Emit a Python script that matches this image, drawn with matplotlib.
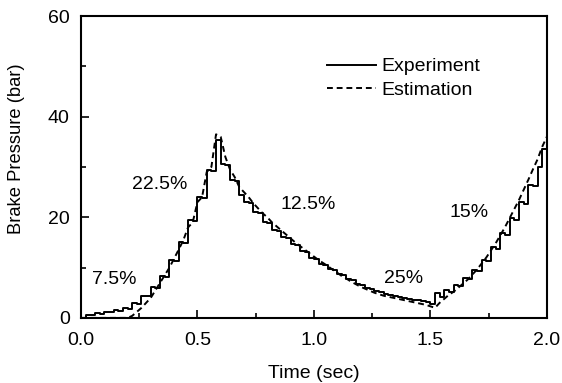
import matplotlib
matplotlib.use("Agg")
import matplotlib.pyplot as plt
from matplotlib.ticker import MultipleLocator

plt.rcParams["font.family"] = ["Liberation Sans", "DejaVu Sans"]

# sample times (sec), 0.02 s grid
time = [round(0.02 * i, 2) for i in range(101)]

# measured brake pressure (bar), held between samples
experiment = [
    0.0, 0.5, 0.5, 0.9, 0.8, 1.2, 1.1, 1.5, 1.4, 1.9,
    1.8, 2.9, 2.8, 4.4, 4.3, 6.2, 6.0, 8.4, 8.2, 11.5,
    11.3, 15.0, 14.8, 19.5, 19.2, 24.0, 23.8, 29.5, 29.2, 35.3,
    30.5, 30.3, 27.4, 27.2, 24.4, 23.0, 22.8, 21.0, 20.8, 19.0,
    18.8, 17.4, 17.2, 16.0, 15.8, 14.6, 14.4, 13.3, 13.1, 12.0,
    11.8, 10.8, 10.6, 9.7, 9.5, 8.7, 8.5, 7.7, 7.5, 6.8,
    6.6, 6.0, 5.8, 5.3, 5.1, 4.7, 4.6, 4.3, 4.2, 3.9,
    3.8, 3.6, 3.5, 3.3, 3.1, 2.8, 5.0, 4.2, 5.6, 5.2,
    6.6, 6.3, 8.0, 7.7, 9.6, 9.3, 11.6, 11.3, 14.0, 13.7,
    16.8, 16.5, 19.8, 19.5, 23.0, 22.7, 26.5, 26.2, 30.0, 33.5,
    33.0,
]

# estimated brake pressure (bar)
estimation = [
    0.0, 0.0, 0.0, 0.0, 0.0, 0.0, 0.0, 0.0, 0.0, 0.0,
    0.0, 0.4, 1.2, 2.0, 3.0, 4.0, 5.5, 7.0, 8.5, 10.0,
    11.8, 13.6, 15.5, 18.0, 19.0, 23.0, 24.0, 29.0, 30.0, 36.5,
    36.0, 32.0, 29.5, 28.0, 26.0, 25.0, 24.0, 22.8, 21.8, 20.8,
    20.0, 19.0, 18.2, 17.4, 16.6, 15.8, 15.0, 14.3, 13.6, 12.9,
    12.2, 11.5, 10.9, 10.3, 9.6, 9.0, 8.3, 7.8, 7.2, 6.7,
    6.2, 5.8, 5.4, 5.0, 4.7, 4.4, 4.2, 4.0, 3.8, 3.6,
    3.4, 3.2, 3.0, 2.8, 2.6, 2.3, 2.0, 3.0, 3.8, 4.6,
    5.2, 6.0, 6.8, 7.6, 8.6, 9.6, 10.8, 12.0, 13.4, 14.8,
    16.4, 18.0, 19.8, 21.6, 23.4, 25.4, 27.4, 29.5, 31.5, 34.0,
    36.0,
]

# duty labels and where they sit (time, pressure)
duty_labels = ["7.5%", "22.5%", "12.5%", "25%", "15%"]
duty_t = [0.145, 0.34, 0.975, 1.385, 1.665]
duty_p = [7.6, 26.5, 22.6, 7.9, 21.0]

fig = plt.figure(figsize=(5.62, 3.83), dpi=100)
ax = fig.add_axes([0.144, 0.170, 0.829, 0.788])

ax.plot(time, experiment, color="black", lw=1.4, drawstyle="steps-post",
        label="Experiment")
ax.plot(time, estimation, color="black", lw=1.4, linestyle=(0, (3, 2)),
        label="Estimation")

for lab, tx, py in zip(duty_labels, duty_t, duty_p):
    ax.text(tx, py, lab, ha="center", va="center", fontsize=14)

ax.set_xlim(0, 2.0)
ax.set_ylim(0, 60)
ax.xaxis.set_major_locator(MultipleLocator(0.5))
ax.xaxis.set_minor_locator(MultipleLocator(0.25))
ax.yaxis.set_major_locator(MultipleLocator(20))
ax.yaxis.set_minor_locator(MultipleLocator(10))
ax.xaxis.set_major_formatter(plt.FormatStrFormatter("%.1f"))
ax.tick_params(which="both", direction="in", top=False, right=False,
               labelsize=14, width=1.2)
ax.tick_params(which="major", length=6)
ax.tick_params(axis="x", which="major", pad=10)
ax.tick_params(axis="y", which="major", pad=8)
ax.tick_params(which="minor", length=3.5)
for s in ax.spines.values():
    s.set_linewidth(1.5)

ax.set_xlabel("Time (sec)", fontsize=14, labelpad=12)
ax.set_ylabel("Brake Pressure (bar)", fontsize=13.2)
ax.yaxis.set_label_coords(-0.12, 0.56)

ax.legend(loc="upper left", bbox_to_anchor=(0.528, 0.862), frameon=False,
          fontsize=14, handlelength=2.5, handletextpad=0.28,
          labelspacing=0.3, borderpad=0, borderaxespad=0)

fig.savefig("out.png", dpi=100)
